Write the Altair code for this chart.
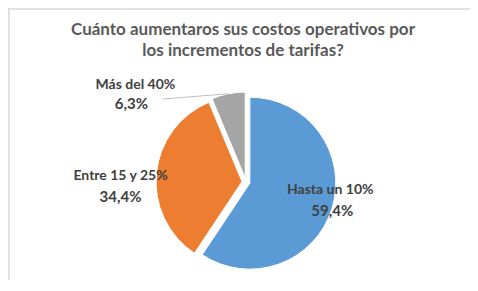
import altair as alt
import pandas as pd

categories = ["Hasta un 10%", "Entre 15 y 25%", "Más del 40%"]
values = [59.4, 34.4, 6.3]
pct_labels = ["59,4%", "34,4%", "6,3%"]
colors = ["#5B9BD5", "#ED7D31", "#A5A5A5"]
title_lines = ["Cuánto aumentaros sus costos operativos por", "los incrementos de tarifas?"]

df = pd.DataFrame({"cat": categories, "v": values, "pct": pct_labels, "idx": list(range(len(categories)))})

W, H = 440, 196
PL, PR, PT, PB = 18, 4, 76, 0
EXPLODE = 4
R = 86
FONT = "Lato"
TXT = "#404040"

base = (
    alt.Chart(df)
    .transform_joinaggregate(total="sum(v)")
    .transform_window(cum="sum(v)", sort=[alt.SortField("idx")], frame=[None, 0])
    .transform_calculate(
        mid="(datum.cum - datum.v/2)/datum.total*2*PI",
        ox=f"{EXPLODE}*sin(datum.mid)",
        oy=f"-{EXPLODE}*cos(datum.mid)",
    )
)

xs = alt.Scale(domain=[-W / 2, W / 2], nice=False, zero=False)
ys = alt.Scale(domain=[-H / 2, H / 2], nice=False, zero=False, reverse=True)

arcs = base.mark_arc(outerRadius=R, stroke="white", strokeWidth=1).encode(
    theta=alt.Theta("v:Q", stack=True),
    order=alt.Order("idx:Q"),
    color=alt.Color("cat:N", scale=alt.Scale(domain=categories, range=colors), legend=None),
    x=alt.X("ox:Q", scale=xs, axis=None),
    y=alt.Y("oy:Q", scale=ys, axis=None),
)

# label placement styles per category (radius, offsets)
label_style = {
    "Hasta un 10%": dict(r=88, ndx=0, ndy=-17, pdx=2, pdy=4),
    "Entre 15 y 25%": dict(r=126, ndx=0, ndy=6, pdx=0, pdy=27),
    "Más del 40%": dict(r=100, ndx=-91, ndy=1, pdx=-95, pdy=20),
}

layers = [arcs]
for c in categories:
    s = label_style[c]
    layers.append(
        base.mark_text(radius=s["r"], dx=s["ndx"], dy=s["ndy"], font=FONT, fontSize=14,
                       fontWeight="bold", color=TXT, baseline="middle", align="center").encode(
            theta=alt.Theta("v:Q", stack=True),
            order=alt.Order("idx:Q"),
            text=alt.condition(alt.datum.cat == c, "cat:N", alt.value("")),
        )
    )
    layers.append(
        base.mark_text(radius=s["r"], dx=s["pdx"], dy=s["pdy"], font=FONT, fontSize=15,
                       fontWeight="bold", color=TXT, baseline="middle", align="center").encode(
            theta=alt.Theta("v:Q", stack=True),
            order=alt.Order("idx:Q"),
            text=alt.condition(alt.datum.cat == c, "pct:N", alt.value("")),
        )
    )

leader = (
    base.transform_filter(alt.datum.cat == "Más del 40%")
    .transform_calculate(
        lx1="-83", ly1="-83",
        lx2=f"{R + EXPLODE}*sin(datum.mid)", ly2=f"-{R + EXPLODE}*cos(datum.mid)",
    )
    .mark_rule(color="#BFBFBF", strokeWidth=1)
    .encode(
        x=alt.X("lx1:Q", scale=xs, axis=None), y=alt.Y("ly1:Q", scale=ys, axis=None),
        x2="lx2:Q", y2="ly2:Q",
    )
)
layers.append(leader)

# chart title, two centred lines
title_y = [-49.5, -28]
for line, ty in zip(title_lines, title_y):
    layers.append(
        alt.Chart(df).mark_text(font=FONT, fontSize=17, fontWeight="bold", color="#595959",
                                align="center", baseline="alphabetic").encode(
            x=alt.value(W / 2 - 3), y=alt.value(ty), text=alt.value(line)
        ).transform_filter(alt.datum.idx == 0)
    )

# light frame lines (top and left edges of the chart box)
frame_top = alt.Chart(df).mark_rule(color="#D9D9D9", strokeWidth=1.5).encode(
    x=alt.value(-PL), x2=alt.value(W + PR + 20), y=alt.value(-PT + 1)
).transform_filter(alt.datum.idx == 0)
frame_left = alt.Chart(df).mark_rule(color="#D9D9D9", strokeWidth=1.5).encode(
    x=alt.value(-PL + 1), y=alt.value(-PT), y2=alt.value(H + PB + 20)
).transform_filter(alt.datum.idx == 0)
layers += [frame_top, frame_left]

chart = alt.layer(*layers).properties(
    width=W, height=H,
    background="white",
    autosize=alt.AutoSizeParams(type="none"),
    padding={"left": PL, "right": PR, "top": PT, "bottom": PB},
).configure_view(stroke=None)

chart.save("out.html", embed_options={"renderer": "svg", "actions": False})
